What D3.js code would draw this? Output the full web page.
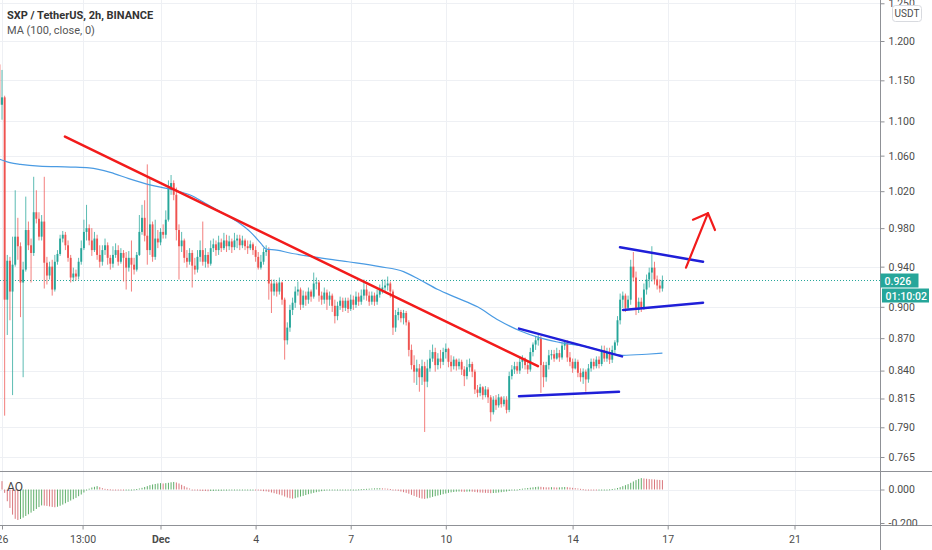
<!DOCTYPE html>
<html>
<head>
<meta charset="utf-8">
<script src="https://cdn.jsdelivr.net/npm/d3@7"></script>
<style>
  body { margin: 0; background: #fff; }
  svg { display: block; font-family: Roboto, "Open Sans", sans-serif; }
</style>
</head>
<body>
<svg id="chart" width="932" height="550"></svg>
<script>
// Dimensions standard
const width = 932;
const height = 550;
const plotRight = 880.5;   // bord gauche de l'échelle de prix
const mainBottom = 471.5;  // séparation graphique / AO
const aoBottom = 525.5;    // axe du temps

// --- Données (SXP/USDT, bougies 2h) ---
const firstTime = Date.UTC(2020, 10, 25, 22);
const step = 2 * 3600 * 1000;
const firstOpen = 1.170;

// prix en millièmes d'USDT
const closes = [
  1120,1129,907,946,915,942,971,961,924,937, 978,962,954,997,990,971,987,944,931,940,
  917,945,953,969,973,962,949,929,933,930, 945,959,976,980,967,957,969,952,945,957,
  962,949,943,952,957,945,954,949,939,949, 942,937,952,976,991,972,957,984,950,969,
  965,976,973,989,1023,1029,1016,978,961,967, 949,945,954,941,937,950,957,945,952,943,
  959,963,957,965,959,967,961,966,960,967, 969,962,967,961,959,963,957,950,939,945,
  955,957,923,915,923,915,924,907,868,880, 897,904,915,917,902,911,907,915,910,923,
  924,911,907,914,907,911,901,891,901,906, 899,906,898,907,902,910,905,911,917,911,
  905,911,905,912,917,919,921,923,915,880, 892,895,889,894,885,859,845,839,842,834,
  844,830,842,851,857,845,851,848,857,860, 848,844,850,844,848,841,835,843,846,839,
  823,820,825,818,823,816,803,814,809,816, 810,814,805,835,841,844,840,848,851,845,
  841,857,864,868,870,845,834,845,854,855, 851,856,852,863,866,852,848,842,848,838,
  834,839,832,842,848,844,850,846,859,851, 857,850,859,866,887,907,911,899,907,940,
  929,897,905,899,917,927,934,939,927,921, 918,926
].map(v => v / 1000);

const highs = [
  1192,1163,1131,952,950,971,1021,991,965,945, 1014,987,969,1036,1021,997,994,1036,950,945,
  947,952,957,973,977,976,967,952,939,937, 949,967,989,1005,984,980,976,973,962,962,
  969,965,952,961,964,962,959,957,955,956, 967,949,955,994,1005,1010,1050,1035,987,989,
  978,980,984,999,1032,1038,1032,1024,984,976, 969,957,959,957,949,957,967,987,959,955,
  967,969,967,972,969,975,973,972,969,975, 973,973,972,969,967,967,965,961,955,952,
  959,962,960,927,927,925,929,925,909,885, 902,909,920,925,919,916,915,919,917,934,
  929,926,915,919,917,915,913,907,905,910, 909,909,909,912,911,915,914,917,927,922,
  915,915,914,917,922,927,927,930,925,917, 897,899,897,897,896,887,864,854,850,846,
  850,848,850,859,864,861,856,859,861,865, 861,854,853,851,851,850,844,850,851,848,
  841,827,828,826,826,825,818,817,818,819, 817,817,817,839,845,848,848,853,854,852,
  848,861,866,872,873,872,848,848,859,859, 859,861,859,866,868,868,857,851,851,850,
  842,842,841,846,851,851,853,853,863,863, 861,861,863,868,891,913,915,913,911,947,
  955,935,909,909,923,932,939,961,945,931, 927,931
].map(v => v / 1000);

const lows = [
  1068,1102,800,873,887,818,940,947,890,834, 935,957,924,951,985,967,967,918,922,927,
  911,915,942,951,965,957,945,924,925,926, 927,942,957,967,962,951,955,947,939,941,
  952,942,937,939,949,941,943,925,917,935, 915,932,935,951,973,966,942,952,945,947,
  959,962,969,969,987,1016,1010,967,927,955, 944,939,942,919,932,934,945,941,939,939,
  941,955,951,952,955,957,955,957,954,957, 959,957,959,957,953,957,952,945,937,937,
  942,951,907,894,911,910,912,902,850,864, 876,892,899,911,897,899,901,903,905,908,
  917,905,902,903,897,901,895,884,887,897, 895,896,894,896,897,899,901,902,907,906,
  901,902,901,902,909,913,914,916,909,873, 876,887,885,883,882,853,841,829,827,821,
  827,786,825,839,848,839,841,842,845,851, 843,839,841,840,841,836,826,832,839,834,
  819,816,817,814,816,811,795,801,805,807, 807,808,802,803,832,837,837,837,842,841,
  837,839,853,859,863,820,825,830,841,850, 848,850,848,850,859,848,844,838,841,834,
  830,828,821,829,839,841,842,842,844,848, 848,846,847,855,863,883,899,895,897,902,
  925,892,894,895,897,912,919,925,922,917, 914,915
].map(v => v / 1000);

// Awesome Oscillator, une valeur par bougie (millièmes)
const aoValues = [
  60,50,-20,-70,-110,-150,-175,-182,-176,-168, -158,-148,-138,-128,-116,-105,-95,-96,-98,-101,
  -104,-106,-103,-97,-90,-82,-74,-66,-58,-50, -40,-30,-18,-6,5,12,16,20,14,8,
  4,2,1,0,-1,-2,-2,-2,-1,-1, 0,1,3,6,10,15,20,26,30,33,
  36,38,36,38,40,43,45,42,36,28, 20,12,6,0,-4,-6,-8,-9,-9,-10,
  -9,-9,-8,-8,-8,-7,-7,-6,-6,-5, -5,-4,-4,-3,-3,-3,-3,-4,-6,-8,
  -10,-11,-14,-18,-22,-26,-30,-35,-42,-48, -52,-55,-52,-47,-42,-38,-33,-28,-24,-20,
  -16,-13,-10,-8,-6,-5,-5,-5,-4,-3, -3,-2,-2,-1,-1,0,1,2,3,4,
  5,6,7,8,8,7,6,5,3,0, -4,-8,-12,-16,-20,-25,-32,-38,-44,-50,
  -54,-56,-53,-49,-44,-40,-36,-32,-28,-24, -20,-17,-15,-13,-12,-13,-14,-13,-12,-13,
  -15,-17,-18,-19,-20,-21,-22,-21,-20,-18, -16,-14,-12,-9,-6,-3,0,3,5,7,
  9,11,13,15,17,16,14,13,13,14, 13,12,13,14,15,14,12,10,8,6,
  4,2,0,-2,-3,-4,-4,-3,-2,-1, 0,1,3,5,9,14,20,26,32,40,
  48,56,63,68,66,64,62,61,60,58, 57,56
].map(v => v / 1000);

// MA(100) relevée à quelques bougies
const maIndex = [0,4,8,15,27,34,42,49,57,65,72,79,84,90,95,99,101,105,110,119,132,144,153,159,166,173,181,189,197,205,212,224,231,236,245,251];
const maValues = [1.056,1.052,1.050,1.048,1.047,1.046,1.041,1.034,1.027,1.022,1.016,1.005,0.997,0.987,0.976,0.964,0.958,0.957,0.954,0.950,0.945,0.940,0.935,0.927,0.917,0.909,0.900,0.887,0.877,0.870,0.866,0.861,0.856,0.854,0.855,0.856];

// Échelles (ticks)
const priceTicks = [1.25, 1.2, 1.15, 1.1, 1.06, 1.02, 0.98, 0.94, 0.9, 0.87, 0.84, 0.815, 0.79, 0.765];
const aoTicks = [0, -0.2];
const timeTicks = [
  Date.UTC(2020,10,26), Date.UTC(2020,10,28,13), Date.UTC(2020,11,1), Date.UTC(2020,11,4),
  Date.UTC(2020,11,7), Date.UTC(2020,11,10), Date.UTC(2020,11,14), Date.UTC(2020,11,17), Date.UTC(2020,11,21)
].map(t => new Date(t));
const timeLabels = ["26", "13:00", "Dec", "4", "7", "10", "14", "17", "21"];

// Tracés à la main (date, prix)
const redTrend = [["2020-11-27T23:40:00Z", 1.082], ["2020-12-12T21:45:00Z", 0.844]];
const blueLines = [
  [["2020-12-12T07:25:00Z", 0.879], ["2020-12-15T13:24:00Z", 0.853]],
  [["2020-12-12T07:25:00Z", 0.817], ["2020-12-15T11:08:00Z", 0.821]],
  [["2020-12-15T11:53:00Z", 0.960], ["2020-12-18T02:44:00Z", 0.945]],
  [["2020-12-15T14:10:00Z", 0.897], ["2020-12-18T02:44:00Z", 0.904]]
];
const arrowShaft = [["2020-12-17T13:51:00Z", 0.939], ["2020-12-18T06:30:00Z", 0.996]];
const arrowHead = [["2020-12-17T19:09:00Z", 0.989], ["2020-12-18T06:30:00Z", 0.996], ["2020-12-18T11:48:00Z", 0.978]];

const upColor = "#26a69a";
const downColor = "#ef5350";

// --- Construction ---
const candles = closes.map((c, i) => ({
  t: new Date(firstTime + i * step),
  o: i === 0 ? firstOpen : closes[i - 1],
  h: highs[i],
  l: lows[i],
  c: c
}));

const x = d3.scaleUtc()
  .domain([new Date(Date.UTC(2020,10,26)), new Date(Date.UTC(2020,11,21))])
  .range([2, 794.5]);
const y = d3.scaleLog().domain([1.2, 0.765]).range([41, 457]);
const yAo = d3.scaleLinear().domain([0, -0.2]).range([489.5, 523]);

const svg = d3.select("#chart");

svg.append("defs").call(defs => {
  defs.append("clipPath").attr("id", "clipMain")
    .append("rect").attr("x", 0).attr("y", 0).attr("width", plotRight).attr("height", mainBottom);
  defs.append("clipPath").attr("id", "clipAo")
    .append("rect").attr("x", 0).attr("y", mainBottom + 0.5).attr("width", width).attr("height", aoBottom - mainBottom - 0.5);
});

// Grille
const grid = svg.append("g").attr("stroke", "#eef0f4").attr("stroke-width", 1);
grid.selectAll(".hgrid").data(priceTicks).join("line")
  .attr("x1", 0).attr("x2", plotRight)
  .attr("y1", d => Math.round(y(d)) + 0.5).attr("y2", d => Math.round(y(d)) + 0.5);
grid.selectAll(".vgrid").data(timeTicks).join("line")
  .attr("x1", d => Math.round(x(d)) + 0.5).attr("x2", d => Math.round(x(d)) + 0.5)
  .attr("y1", 0).attr("y2", aoBottom);
grid.append("line").attr("x1", 0).attr("x2", plotRight)
  .attr("y1", Math.round(yAo(0)) + 0.5).attr("y2", Math.round(yAo(0)) + 0.5);

// Graphique principal
const main = svg.append("g").attr("clip-path", "url(#clipMain)");

// Ligne du dernier prix
const last = candles[candles.length - 1];
main.append("line")
  .attr("x1", 0).attr("x2", plotRight)
  .attr("y1", y(last.c)).attr("y2", y(last.c))
  .attr("stroke", upColor).attr("stroke-width", 1).attr("stroke-dasharray", "1,2");

const candle = main.selectAll("g.candle").data(candles).join("g").attr("class", "candle");
candle.append("line")
  .attr("x1", d => x(d.t)).attr("x2", d => x(d.t))
  .attr("y1", d => y(d.h)).attr("y2", d => y(d.l))
  .attr("stroke", d => d.c >= d.o ? upColor : downColor)
  .attr("stroke-opacity", 0.75)
  .attr("stroke-width", 1);
candle.append("rect")
  .attr("x", d => x(d.t) - 0.95)
  .attr("width", 1.9)
  .attr("y", d => y(Math.max(d.o, d.c)))
  .attr("height", d => Math.max(1, Math.abs(y(d.o) - y(d.c))))
  .attr("fill", d => d.c >= d.o ? upColor : downColor);

// Moyenne mobile
const maPoints = maIndex.map((k, i) => ({ t: candles[k].t, v: maValues[i] }));
main.append("path")
  .datum(maPoints)
  .attr("fill", "none")
  .attr("stroke", "#4a9be3")
  .attr("stroke-width", 1.2)
  .attr("d", d3.line().curve(d3.curveMonotoneX).x(d => x(d.t)).y(d => y(d.v)));

// Dessins
const drawLine = d3.line().x(d => x(new Date(d[0]))).y(d => y(d[1]));
main.append("path").datum(redTrend)
  .attr("d", drawLine).attr("fill", "none")
  .attr("stroke", "#f21b1b").attr("stroke-width", 2.5).attr("stroke-linecap", "round");
main.selectAll(".blue").data(blueLines).join("path")
  .attr("d", drawLine).attr("fill", "none")
  .attr("stroke", "#1f1fd8").attr("stroke-width", 2.5).attr("stroke-linecap", "round");
[arrowShaft, arrowHead].forEach(pts => {
  main.append("path").datum(pts)
    .attr("d", drawLine).attr("fill", "none")
    .attr("stroke", "#f21b1b").attr("stroke-width", 2.2)
    .attr("stroke-linecap", "round").attr("stroke-linejoin", "round");
});

// Awesome Oscillator
const aoG = svg.append("g").attr("clip-path", "url(#clipAo)");
let prevUp = false;
const aoBars = aoValues.map((v, i) => {
  let up = prevUp;
  if (i > 0 && v > aoValues[i - 1]) up = true;
  if (i > 0 && v < aoValues[i - 1]) up = false;
  prevUp = up;
  return { t: candles[i].t, v: v, up: up };
});
aoG.selectAll("rect").data(aoBars).join("rect")
  .attr("x", d => x(d.t) - 0.5)
  .attr("width", 1)
  .attr("y", d => Math.min(yAo(0), yAo(d.v)))
  .attr("height", d => Math.max(1, Math.abs(yAo(d.v) - yAo(0))))
  .attr("fill", d => d.up ? "#5fae6a" : "#d9777d");

// Bordures
const border = svg.append("g").attr("stroke", "#8f9196").attr("stroke-width", 1);
border.append("line").attr("x1", plotRight).attr("x2", plotRight).attr("y1", 0).attr("y2", height);
border.append("line").attr("x1", 0).attr("x2", width).attr("y1", mainBottom).attr("y2", mainBottom);
border.append("line").attr("x1", 0).attr("x2", width).attr("y1", aoBottom).attr("y2", aoBottom);

// Axes
function styleAxis(g) {
  g.select(".domain").remove();
  g.selectAll(".tick line").attr("stroke", "#8f9196");
  g.selectAll(".tick text").attr("fill", "#4b4b4b").attr("font-size", "10.5px")
    .attr("font-family", "Roboto, sans-serif");
}

svg.append("g")
  .attr("transform", `translate(${plotRight},0)`)
  .call(d3.axisRight(y).tickValues(priceTicks).tickFormat(d3.format(".3f")).tickSize(4).tickPadding(4))
  .call(styleAxis);

svg.append("g")
  .attr("clip-path", "url(#clipAo)")
  .append("g")
  .attr("transform", `translate(${plotRight},0)`)
  .call(d3.axisRight(yAo).tickValues(aoTicks).tickFormat(d => d3.format(".3f")(d).replace("−", "-")).tickSize(4).tickPadding(4))
  .call(styleAxis);

svg.append("g")
  .attr("transform", `translate(0,${aoBottom})`)
  .call(d3.axisBottom(x).tickValues(timeTicks).tickFormat((d, i) => timeLabels[i]).tickSize(4).tickPadding(6))
  .call(styleAxis)
  .call(g => g.selectAll(".tick text").filter((d, i) => timeLabels[i] === "Dec").attr("font-weight", "bold"));

// Étiquettes du dernier prix
const yl = y(last.c);
svg.append("rect").attr("x", plotRight).attr("y", yl - 7).attr("width", 38).attr("height", 14).attr("fill", upColor);
svg.append("text").attr("x", plotRight + 4).attr("y", yl + 4)
  .attr("fill", "#fff").attr("font-size", "10.5px").attr("font-weight", 500)
  .text(d3.format(".3f")(last.c));
svg.append("rect").attr("x", plotRight + 1.5).attr("y", yl + 8).attr("width", 47).attr("height", 14).attr("fill", upColor);
svg.append("text").attr("x", plotRight + 5).attr("y", yl + 19)
  .attr("fill", "#fff").attr("font-size", "10.5px").attr("font-weight", 500)
  .text("01:10:02");

// Devise (par-dessus l'étiquette 1.250 coupée)
svg.append("rect").attr("x", 892.5).attr("y", 5.5).attr("width", 29).attr("height", 16).attr("rx", 3)
  .attr("fill", "#fff").attr("stroke", "#d8dadf");
svg.append("text").attr("x", 907).attr("y", 17).attr("text-anchor", "middle")
  .attr("fill", "#4b4b4b").attr("font-size", "10px").text("USDT");

// Légende
svg.append("text").attr("x", 7).attr("y", 19)
  .attr("fill", "#333").attr("font-size", "11px").attr("font-weight", "bold")
  .text("SXP / TetherUS, 2h, BINANCE");
svg.append("text").attr("x", 7).attr("y", 34)
  .attr("fill", "#555").attr("font-size", "11px")
  .text("MA (100, close, 0)");
svg.append("text").attr("x", 7).attr("y", 491)
  .attr("fill", "#444").attr("font-size", "12px")
  .text("AO");
</script>
</body>
</html>
